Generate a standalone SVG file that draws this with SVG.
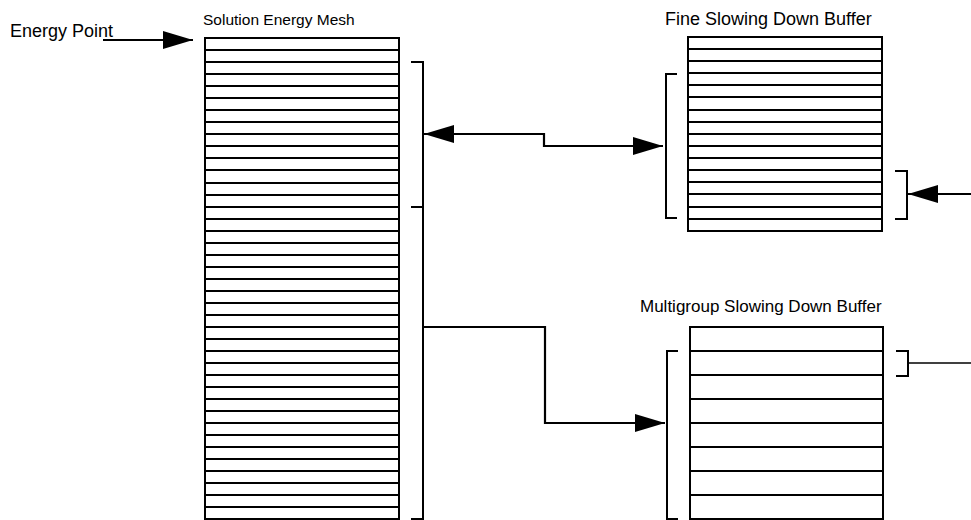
<svg xmlns="http://www.w3.org/2000/svg" width="971" height="520" viewBox="0 0 971 520">
<defs>
<style>
.bg{fill:#fff}
.lbl{font-family:"Liberation Sans",Arial,sans-serif;font-size:17px;fill:#000}
.box{fill:#fff;stroke:#000;stroke-width:2}
.row{stroke:#000;stroke-width:2}
.br{fill:none;stroke:#000;stroke-width:2}
.con{fill:none;stroke:#000;stroke-width:2.2}
.thin{fill:none;stroke:#000;stroke-width:1.3}
</style>
<marker id="ah" markerUnits="userSpaceOnUse" markerWidth="31" markerHeight="19" refX="30" refY="9" orient="auto-start-reverse" viewBox="0 0 31 19">
<path d="M0,0 L30,9 L0,18 Z" fill="#000"/>
</marker>
</defs>
<rect class="bg" x="0" y="0" width="971" height="520"/>

<g id="energy-point">
<text class="lbl" x="10" y="37" style="font-size:18px">Energy Point</text>
</g>

<g id="solution-mesh">
<text class="lbl" x="203" y="25" style="font-size:15.5px">Solution Energy Mesh</text>
<rect class="box" x="205" y="38" width="194" height="481"/>
<path class="row" d="M205,50h194M205,62h194M205,74h194M205,86h194M205,98h194M205,110h194M205,122h194M205,134h194M205,146h194M205,158h194M205,170h194M205,183h194M205,195h194M205,207h194M205,219h194M205,231h194M205,243h194M205,255h194M205,267h194M205,279h194M205,291h194M205,303h194M205,315h194M205,327h194M205,339h194M205,351h194M205,363h194M205,375h194M205,387h194M205,399h194M205,411h194M205,423h194M205,435h194M205,447h194M205,459h194M205,471h194M205,483h194M205,495h194M205,507h194"/>
<path class="br" d="M411,62H423V519H411M411,207H423"/>
</g>

<g id="fine-buffer">
<text class="lbl" x="665" y="25" style="font-size:18px">Fine Slowing Down Buffer</text>
<rect class="box" x="688" y="37" width="194" height="194"/>
<path class="row" d="M688,49h194M688,61h194M688,73h194M688,85h194M688,97h194M688,110h194M688,122h194M688,134h194M688,146h194M688,158h194M688,170h194M688,182h194M688,194h194M688,207h194M688,219h194"/>
<path class="br" d="M677,74H666V218H677"/>
<path class="br" d="M895,171H907V219H895"/>
</g>

<g id="multigroup-buffer">
<text class="lbl" x="640" y="312">Multigroup Slowing Down Buffer</text>
<rect class="box" x="690" y="327" width="193" height="192"/>
<path class="row" d="M690,351h193M690,375h193M690,399h193M690,423h193M690,447h193M690,471h193M690,495h193"/>
<path class="br" d="M678,351H667V519H678"/>
<path class="br" d="M896,351H908V376H896"/>
</g>

<g id="connectors">
<path class="con" d="M103,40H193" marker-end="url(#ah)"/>
<path class="con" d="M424,134H544V146H663" marker-start="url(#ah)" marker-end="url(#ah)"/>
<path class="con" d="M971,194H908" marker-end="url(#ah)"/>
<path class="con" d="M423,327H545V423H665" marker-end="url(#ah)"/>
<path class="thin" d="M908,363H971"/>
</g>
</svg>
